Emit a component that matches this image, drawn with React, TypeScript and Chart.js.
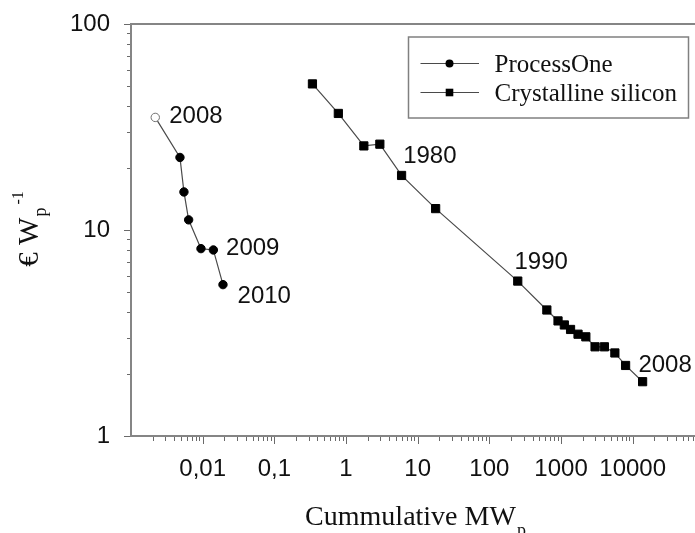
import React, { useEffect, useRef } from 'react';
import { Chart, registerables } from 'chart.js';

Chart.register(...registerables);

// ---------- data ----------
const seriesLabels = ['ProcessOne', 'Crystalline silicon'];

const processOneX = [0.00218, 0.00482, 0.00548, 0.00637, 0.00947, 0.0141, 0.0192];
const processOneY = [35.2, 22.5, 15.3, 11.2, 8.12, 8.0, 5.43];

const siliconX = [0.34, 0.781, 1.773, 2.965, 5.96, 17.8, 249, 634, 908, 1112, 1358, 1727, 2219, 2984, 4027, 5640, 7960, 13750];
const siliconY = [51.2, 36.8, 25.6, 26.1, 18.4, 12.7, 5.65, 4.09, 3.62, 3.46, 3.29, 3.12, 3.03, 2.71, 2.71, 2.53, 2.2, 1.835];

const processOneYearIndex = [0, 5, 6];
const processOneYearText = ['2008', '2009', '2010'];
const siliconYearIndex = [3, 6, 17];
const siliconYearText = ['1980', '1990', '2008'];

const xMajorValues = [0.01, 0.1, 1, 10, 100, 1000, 10000];
const xTickLabels = ['0,01', '0,1', '1', '10', '100', '1000', '10000'];
const yMajorValues = [1, 10, 100];
const yTickLabels = ['1', '10', '100'];

const xMin = 0.001;
const xMax = 74000;
const yMin = 1;
const yMax = 100;

// ---------- layout / style ----------
const W = 695;
const H = 533;
const FONT_SANS = '"Liberation Sans", Arial, sans-serif';
const FONT_SERIF = '"Liberation Serif", "Times New Roman", serif';
const TEXT_COLOR = '#111111';
const FRAME_COLOR = '#858585';
const TICK_COLOR = '#6a6a6a';
const LINE_COLOR = '#4a4a4a';

const processOneYearOffsets = [[14, -3], [12.7, -3.3], [14.6, 9.7]];
const siliconYearOffsets = [[23.3, 9.8], [-3.3, -20.7], [-4.2, -18.4]];

const legendBox = { x: 408.5, y: 37, w: 280, h: 81 };

function logTicks(min: number, max: number): number[] {
  const out: number[] = [];
  const e0 = Math.floor(Math.log10(min));
  const e1 = Math.ceil(Math.log10(max));
  for (let e = e0; e <= e1; e++) {
    for (let m = 1; m <= 9; m++) {
      const v = parseFloat((m * Math.pow(10, e)).toPrecision(6));
      if (v >= min * 0.9999 && v <= max * 1.0001) out.push(v);
    }
  }
  return out;
}

function isMajor(list: number[], v: number) {
  return list.some((m) => Math.abs(m - v) / m < 1e-6);
}

function zeroPadding(s: any) {
  s.paddingLeft = 0;
  s.paddingRight = 0;
  s.paddingTop = 0;
  s.paddingBottom = 0;
}

function drawMarker(ctx: CanvasRenderingContext2D, style: string, x: number, y: number) {
  ctx.fillStyle = '#000';
  ctx.beginPath();
  if (style === 'rect') {
    ctx.rect(x - 3.8, y - 3.8, 7.6, 7.6);
  } else {
    ctx.arc(x, y, 4, 0, Math.PI * 2);
  }
  ctx.fill();
}

const decorPlugin = {
  id: 'decor',
  beforeDatasetsDraw(chart: any) {
    const { ctx, chartArea: a, scales } = chart;
    const x = scales.x;
    const y = scales.y;
    ctx.save();
    // frame
    ctx.strokeStyle = FRAME_COLOR;
    ctx.lineWidth = 2;
    ctx.beginPath();
    ctx.moveTo(a.left, a.top);
    ctx.lineTo(a.right, a.top);
    ctx.moveTo(a.left, a.top - 1);
    ctx.lineTo(a.left, a.bottom + 1);
    ctx.moveTo(a.left, a.bottom);
    ctx.lineTo(a.right, a.bottom);
    ctx.stroke();
    // tick marks
    ctx.strokeStyle = TICK_COLOR;
    ctx.lineWidth = 1;
    ctx.beginPath();
    x.ticks.forEach((t: any) => {
      if (Math.abs(t.value - xMin) / xMin < 1e-6) return;
      const px = Math.round(x.getPixelForValue(t.value)) + 0.5;
      const len = isMajor(xMajorValues, t.value) ? 7 : 4;
      ctx.moveTo(px, a.bottom + 1);
      ctx.lineTo(px, a.bottom + 1 + len);
    });
    y.ticks.forEach((t: any) => {
      const py = Math.round(y.getPixelForValue(t.value)) + 0.5;
      const len = isMajor(yMajorValues, t.value) ? 6 : 3;
      ctx.moveTo(a.left - 1, py);
      ctx.lineTo(a.left - 1 - len, py);
    });
    ctx.stroke();
    ctx.restore();
  },
  afterDraw(chart: any) {
    const { ctx, chartArea: a } = chart;
    ctx.save();

    // year annotations
    const annFont = 24;
    ctx.font = `${annFont}px ${FONT_SANS}`;
    ctx.fillStyle = TEXT_COLOR;
    ctx.textAlign = 'left';
    ctx.textBaseline = 'alphabetic';
    const capHalf = (0.716 * annFont) / 2;
    const m0 = chart.getDatasetMeta(0);
    processOneYearIndex.forEach((idx, i) => {
      const el = m0.data[idx];
      ctx.fillText(processOneYearText[i], el.x + processOneYearOffsets[i][0], el.y + processOneYearOffsets[i][1] + capHalf);
    });
    const m1 = chart.getDatasetMeta(1);
    siliconYearIndex.forEach((idx, i) => {
      const el = m1.data[idx];
      ctx.fillText(siliconYearText[i], el.x + siliconYearOffsets[i][0], el.y + siliconYearOffsets[i][1] + capHalf);
    });

    // legend
    ctx.fillStyle = '#ffffff';
    ctx.fillRect(legendBox.x, legendBox.y, legendBox.w, legendBox.h);
    ctx.strokeStyle = '#808080';
    ctx.lineWidth = 1.5;
    ctx.strokeRect(legendBox.x, legendBox.y, legendBox.w, legendBox.h);
    const rows = [63.5, 92.5];
    chart.data.datasets.forEach((ds: any, i: number) => {
      const ry = rows[i];
      ctx.strokeStyle = ds.borderColor;
      ctx.lineWidth = 1.2;
      ctx.beginPath();
      ctx.moveTo(legendBox.x + 12, ry);
      ctx.lineTo(legendBox.x + 70.5, ry);
      ctx.stroke();
      drawMarker(ctx, ds.pointStyle, legendBox.x + 41, ry);
      ctx.fillStyle = TEXT_COLOR;
      ctx.font = `25px ${FONT_SERIF}`;
      ctx.textBaseline = 'alphabetic';
      ctx.fillText(ds.label, legendBox.x + 86, ry + 8.5);
    });

    // x-axis title: Cummulative MW_p
    const xMain = 'Cummulative MW';
    ctx.font = `28px ${FONT_SERIF}`;
    const wMain = ctx.measureText(xMain).width;
    ctx.font = `18px ${FONT_SERIF}`;
    const wSub = ctx.measureText('p').width;
    const total = wMain + wSub;
    const startX = (a.left + a.right) / 2 + 2 - total / 2;
    ctx.fillStyle = TEXT_COLOR;
    ctx.font = `28px ${FONT_SERIF}`;
    ctx.fillText(xMain, startX, 525);
    ctx.font = `18px ${FONT_SERIF}`;
    ctx.fillText('p', startX + wMain + 1, 536);

    // y-axis title: € W_p^-1 (rotated)
    ctx.font = `29px ${FONT_SERIF}`;
    const yMain = '\u20AC W';
    const yw1 = ctx.measureText(yMain).width;
    ctx.font = `18px ${FONT_SERIF}`;
    const yw2 = ctx.measureText('p').width;
    ctx.font = `16px ${FONT_SERIF}`;
    const yw3 = ctx.measureText('-1').width;
    const ytotal = yw1 + yw2 + 4 + yw3;
    const cy = (a.top + a.bottom) / 2 - 1;
    ctx.translate(38, cy + ytotal / 2);
    ctx.rotate(-Math.PI / 2);
    ctx.font = `29px ${FONT_SERIF}`;
    ctx.fillText(yMain, 0, 0);
    ctx.font = `18px ${FONT_SERIF}`;
    ctx.fillText('p', yw1 + 1, 8);
    ctx.font = `16px ${FONT_SERIF}`;
    ctx.fillText('-1', yw1 + yw2 + 4, -15);

    ctx.restore();
  },
};

export default function App() {
  const canvasRef = useRef<HTMLCanvasElement | null>(null);

  useEffect(() => {
    if (!canvasRef.current) return;
    const chart = new Chart(canvasRef.current, {
      type: 'scatter',
      data: {
        datasets: [
          {
            label: seriesLabels[0],
            data: processOneX.map((x, i) => ({ x, y: processOneY[i] })),
            showLine: true,
            borderColor: LINE_COLOR,
            borderWidth: 1.2,
            pointStyle: 'circle',
            pointRadius: 4.2,
            pointBorderWidth: 1,
            pointBackgroundColor: processOneX.map((_, i) => (i === 0 ? '#ffffff' : '#000000')),
            pointBorderColor: processOneX.map((_, i) => (i === 0 ? '#707070' : '#000000')),
          },
          {
            label: seriesLabels[1],
            data: siliconX.map((x, i) => ({ x, y: siliconY[i] })),
            showLine: true,
            borderColor: LINE_COLOR,
            borderWidth: 1.2,
            pointStyle: 'rect',
            pointRadius: 5.8,
            pointBorderWidth: 1,
            pointBackgroundColor: '#000000',
            pointBorderColor: '#000000',
          },
        ],
      },
      options: {
        animation: false,
        responsive: false,
        events: [],
        layout: { autoPadding: false, padding: { left: 0, right: 0, top: 24, bottom: 0 } },
        plugins: {
          legend: { display: false },
          tooltip: { enabled: false },
          title: { display: false },
        },
        scales: {
          x: {
            type: 'logarithmic',
            position: 'bottom',
            min: xMin,
            max: xMax,
            afterBuildTicks: (s: any) => {
              s.ticks = logTicks(xMin, xMax).map((v) => ({ value: v }));
            },
            afterFit: (s: any) => {
              s.height = 97;
              zeroPadding(s);
            },
            grid: { display: false, drawTicks: false },
            border: { display: false },
            ticks: {
              autoSkip: false,
              maxRotation: 0,
              minRotation: 0,
              padding: 19,
              color: TEXT_COLOR,
              font: { family: FONT_SANS, size: 24 },
              callback: (v: any) => {
                const i = xMajorValues.findIndex((m) => Math.abs(m - Number(v)) / m < 1e-6);
                return i >= 0 ? xTickLabels[i] : '';
              },
            },
          },
          y: {
            type: 'logarithmic',
            position: 'left',
            min: yMin,
            max: yMax,
            afterBuildTicks: (s: any) => {
              s.ticks = logTicks(yMin, yMax).map((v) => ({ value: v }));
            },
            afterFit: (s: any) => {
              s.width = 131;
              zeroPadding(s);
            },
            grid: { display: false, drawTicks: false },
            border: { display: false },
            ticks: {
              autoSkip: false,
              padding: 21,
              color: TEXT_COLOR,
              font: { family: FONT_SANS, size: 24 },
              callback: (v: any) => {
                const i = yMajorValues.findIndex((m) => Math.abs(m - Number(v)) / m < 1e-6);
                return i >= 0 ? yTickLabels[i] : '';
              },
            },
          },
        },
      } as any,
      plugins: [decorPlugin as any],
    });
    return () => chart.destroy();
  }, []);

  return (
    <div style={{ position: 'absolute', left: 0, top: 0, width: W, height: H, background: '#fff' }}>
      <canvas ref={canvasRef} width={W} height={H} style={{ display: 'block' }} />
    </div>
  );
}
